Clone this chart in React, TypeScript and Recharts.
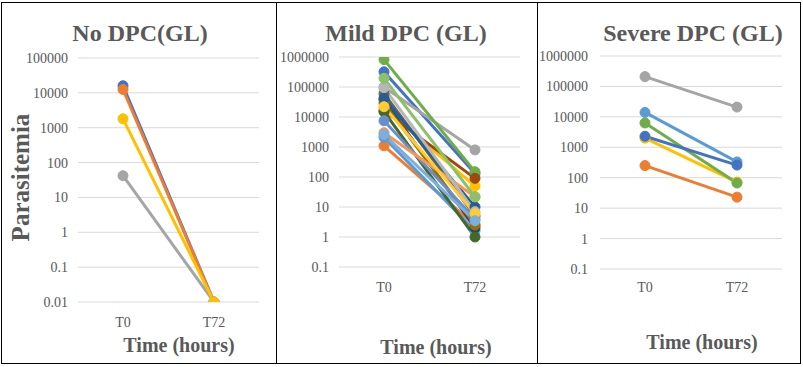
import React from 'react';
import { LineChart, Line, XAxis, YAxis, CartesianGrid } from 'recharts';

const categories = ['T0', 'T72'];

const noDpcTicks = [0.01, 0.1, 1, 10, 100, 1000, 10000, 100000];
const dpcTicks = [0.1, 1, 10, 100, 1000, 10000, 100000, 1000000];

// No DPC (GL)
const noDpcColors = ['#4472C4', '#ED7D31', '#A5A5A5', '#FFC000'];
const noDpcT0 = [16000, 12500, 42, 1800];
const noDpcT72 = [0.01, 0.01, 0.01, 0.01];

// Mild DPC (GL)
const mildColors = [
  '#4472C4', '#ED7D31', '#A5A5A5', '#FFC000', '#5B9BD5', '#70AD47',
  '#264478', '#9E480E', '#636363', '#997300', '#255E91', '#43682B',
  '#698ED0', '#F1975A', '#B7B7B7', '#FFCD33', '#7CAFDD', '#8CC168',
];
const mildT0 = [
  320000, 1100, 100000, 20000, 2100, 820000,
  38000, 16000, 60000, 29000, 42000, 15000,
  7500, 3000, 95000, 22000, 2600, 195000,
];
const mildT72 = [
  130, 2.5, 800, 50, 1.6, 150,
  2, 90, 5, 2.5, 10, 1,
  4, 22, 7, 6, 3.5, 22,
];

// Severe DPC (GL)
const severeColors = ['#ED7D31', '#A5A5A5', '#FFC000', '#5B9BD5', '#70AD47', '#4472C4'];
const severeT0 = [250, 210000, 2000, 14000, 6300, 2300];
const severeT72 = [23, 21000, 72, 330, 67, 260];

const textColor = '#595959';
const serif = 'Liberation Serif, Times New Roman, serif';

function buildRows(t0: number[], t72: number[]) {
  return categories.map((c, i) => {
    const row: Record<string, number | string> = { t: c };
    (i === 0 ? t0 : t72).forEach((v, k) => {
      row['s' + k] = v;
    });
    return row;
  });
}

type PanelProps = {
  left: number;
  width: number;
  margin: { top: number; right: number; bottom: number; left: number };
  yWidth: number;
  yTickMargin: number;
  xTickMargin: number;
  ticks: number[];
  colors: string[];
  t0: number[];
  t72: number[];
};

function XTick(props: any) {
  const { x, y, payload } = props;
  return (
    <text x={x} y={y} dy={10} textAnchor="middle" fill={textColor} fontSize={14} fontFamily={serif}>
      {payload.value}
    </text>
  );
}

function YTick(props: any) {
  const { x, y, payload } = props;
  return (
    <text x={x} y={y} dy={5} textAnchor="end" fill={textColor} fontSize={14} fontFamily={serif}>
      {String(payload.value)}
    </text>
  );
}

function Panel(p: PanelProps) {
  const data = buildRows(p.t0, p.t72);
  return (
    <div style={{ position: 'absolute', left: p.left, top: 0 }}>
      <LineChart width={p.width} height={367} data={data} margin={p.margin}>
        <CartesianGrid horizontal={true} vertical={false} stroke="#d9d9d9" strokeWidth={1} />
        <XAxis
          dataKey="t"
          height={30}
          axisLine={false}
          tickLine={false}
          tickSize={0}
          tickMargin={p.xTickMargin}
          padding={{ left: 45, right: 45 }}
          tick={<XTick />}
          interval={0}
        />
        <YAxis
          scale="log"
          domain={[p.ticks[0], p.ticks[p.ticks.length - 1]]}
          ticks={p.ticks}
          allowDataOverflow
          interval={0}
          width={p.yWidth}
          axisLine={false}
          tickLine={false}
          tickSize={0}
          tickMargin={p.yTickMargin}
          tick={<YTick />}
        />
        {p.colors.map((c, k) => (
          <Line
            key={k}
            dataKey={'s' + k}
            stroke={c}
            strokeWidth={3}
            dot={{ r: 5, fill: c, stroke: c, strokeWidth: 1 }}
            activeDot={false}
            isAnimationActive={false}
          />
        ))}
      </LineChart>
    </div>
  );
}

function Label(props: { text: string; cx: number; cy: number; size: number; rotate?: boolean }) {
  const w = 220;
  const h = props.size + 4;
  return (
    <div
      style={{
        position: 'absolute',
        left: props.cx - w / 2,
        top: props.cy - h / 2,
        width: w,
        height: h,
        lineHeight: h + 'px',
        textAlign: 'center',
        fontFamily: serif,
        fontWeight: 'bold',
        fontSize: props.size,
        color: textColor,
        whiteSpace: 'nowrap',
        transform: props.rotate ? 'rotate(-90deg)' : undefined,
      }}
    >
      {props.text}
    </div>
  );
}

function Rule(props: { x: number; y: number; w: number; h: number }) {
  return (
    <div
      style={{
        position: 'absolute',
        left: props.x,
        top: props.y,
        width: props.w,
        height: props.h,
        background: '#000',
      }}
    />
  );
}

export default function App() {
  return (
    <div
      style={{
        position: 'absolute',
        left: 0,
        top: 0,
        width: 803,
        height: 367,
        background: '#fff',
        overflow: 'hidden',
        fontFamily: serif,
      }}
    >
      <Panel
        left={0}
        width={276}
        margin={{ top: 58, right: 17, bottom: 35, left: 18 }}
        yWidth={60}
        yTickMargin={10}
        xTickMargin={15}
        ticks={noDpcTicks}
        colors={noDpcColors}
        t0={noDpcT0}
        t72={noDpcT72}
      />
      <Panel
        left={276}
        width={261}
        margin={{ top: 57, right: 17, bottom: 70, left: 8 }}
        yWidth={55}
        yTickMargin={10}
        xTickMargin={15}
        ticks={dpcTicks}
        colors={mildColors}
        t0={mildT0}
        t72={mildT72}
      />
      <Panel
        left={537}
        width={263}
        margin={{ top: 56, right: 18, bottom: 68, left: 8 }}
        yWidth={55}
        yTickMargin={12}
        xTickMargin={13}
        ticks={dpcTicks}
        colors={severeColors}
        t0={severeT0}
        t72={severeT72}
      />

      <Label text="No DPC(GL)" cx={140} cy={33} size={24} />
      <Label text="Mild DPC (GL)" cx={406} cy={33} size={24} />
      <Label text="Severe DPC (GL)" cx={693} cy={33} size={24} />

      <Label text="Time (hours)" cx={179} cy={345} size={20} />
      <Label text="Time (hours)" cx={436} cy={347} size={20} />
      <Label text="Time (hours)" cx={702} cy={342} size={20} />

      <Label text="Parasitemia" cx={20} cy={177} size={25} rotate />

      <Rule x={1} y={2} w={800} h={1} />
      <Rule x={1} y={363} w={800} h={1} />
      <Rule x={1} y={2} w={1} h={362} />
      <Rule x={800} y={2} w={1} h={362} />
      <Rule x={276} y={2} w={1} h={362} />
      <Rule x={537} y={2} w={1} h={362} />
    </div>
  );
}
